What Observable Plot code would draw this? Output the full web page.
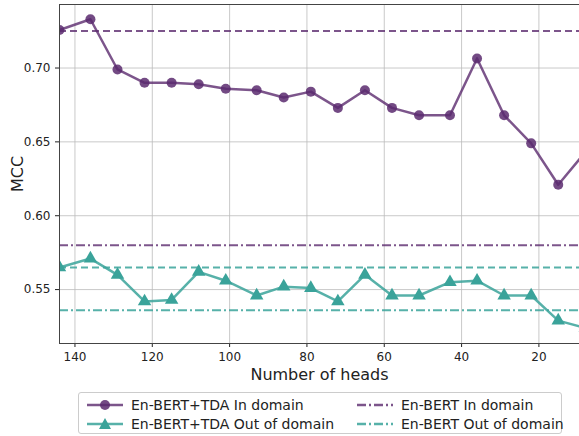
<!DOCTYPE html>
<div id="plot"></div>
<div id="legend">
  <div class="item"><svg width="36" height="14"><line x1="0" y1="7" x2="36" y2="7" stroke="#5b2a6e" stroke-opacity="0.8" stroke-width="2.5"/><circle cx="18" cy="7" r="5" fill="#5b2a6e" fill-opacity="0.85"/></svg>En-BERT+TDA In domain</div>
  <div class="item"><svg width="36" height="14"><line x1="0" y1="7" x2="36" y2="7" stroke="#5b2a6e" stroke-opacity="0.8" stroke-width="2.5" stroke-dasharray="9 3 2 3"/></svg>En-BERT In domain</div>
  <div class="item"><svg width="36" height="14"><line x1="0" y1="7" x2="36" y2="7" stroke="#3aa39a" stroke-opacity="0.85" stroke-width="2.5"/><path d="M18,1 L24,12 L12,12 Z" fill="#3aa39a"/></svg>En-BERT+TDA Out of domain</div>
  <div class="item"><svg width="36" height="14"><line x1="0" y1="7" x2="36" y2="7" stroke="#3aa39a" stroke-opacity="0.85" stroke-width="2.5" stroke-dasharray="9 3 2 3"/></svg>En-BERT Out of domain</div>
</div>
<script src="https://cdn.jsdelivr.net/npm/d3@7"></script>
<script src="https://cdn.jsdelivr.net/npm/@observablehq/plot@0.6"></script>
<script>
const heads = [144, 136, 129, 122, 115, 108, 101, 93, 86, 79, 72, 65, 58, 51, 43, 36, 29, 22, 15, 8];
const tdaIn = [0.7257, 0.733, 0.699, 0.690, 0.690, 0.689, 0.686, 0.685, 0.680, 0.684, 0.673, 0.685, 0.673, 0.668, 0.668, 0.7065, 0.668, 0.649, 0.621, 0.643];
const tdaOut = [0.565, 0.571, 0.560, 0.542, 0.543, 0.562, 0.556, 0.546, 0.552, 0.551, 0.542, 0.560, 0.546, 0.546, 0.555, 0.556, 0.546, 0.546, 0.529, 0.524];
const baseIn = [0.725, 0.580];   // dashed, dash-dot
const baseOut = [0.565, 0.536];

const purple = "#5b2a6e", teal = "#3aa39a";
const inData = heads.map((h, i) => ({h, v: tdaIn[i]}));
const outData = heads.map((h, i) => ({h, v: tdaOut[i]}));

const plot = Plot.plot({
  width: 579, height: 385,
  marginLeft: 59, marginRight: 0, marginTop: 4, marginBottom: 42,
  style: {fontFamily: "DejaVu Sans", fontSize: "12px", color: "#222"},
  x: {domain: [144, 9.5], ticks: [140, 120, 100, 80, 60, 40, 20], label: "Number of heads", labelAnchor: "center", labelArrow: "none", labelOffset: 36, tickSize: 4},
  y: {domain: [0.5135, 0.743], ticks: [0.55, 0.60, 0.65, 0.70], tickFormat: d3.format(".2f"), label: "MCC", labelAnchor: "center", labelArrow: "none", labelOffset: 48, tickSize: 4},
  marks: [
    Plot.gridX([140, 120, 100, 80, 60, 40, 20], {stroke: "#bbb", strokeOpacity: 1, strokeWidth: 0.8}),
    Plot.gridY([0.55, 0.60, 0.65, 0.70], {stroke: "#bbb", strokeOpacity: 1, strokeWidth: 0.8}),
    Plot.ruleY([baseIn[0]], {stroke: purple, strokeOpacity: 0.8, strokeWidth: 2, strokeDasharray: "7 4"}),
    Plot.ruleY([baseIn[1]], {stroke: purple, strokeOpacity: 0.8, strokeWidth: 2, strokeDasharray: "9 3 2 3"}),
    Plot.ruleY([baseOut[0]], {stroke: teal, strokeOpacity: 0.85, strokeWidth: 2, strokeDasharray: "7 4"}),
    Plot.ruleY([baseOut[1]], {stroke: teal, strokeOpacity: 0.85, strokeWidth: 2, strokeDasharray: "9 3 2 3"}),
    Plot.line(inData, {x: "h", y: "v", stroke: purple, strokeOpacity: 0.8, strokeWidth: 2.5, clip: true}),
    Plot.dot(inData, {x: "h", y: "v", fill: purple, fillOpacity: 0.85, r: 5, clip: true}),
    Plot.line(outData, {x: "h", y: "v", stroke: teal, strokeOpacity: 0.85, strokeWidth: 2.5, clip: true}),
    Plot.dot(outData, {x: "h", y: "v", fill: teal, symbol: "triangle", r: 5, clip: true}),
    Plot.frame({stroke: "#444"})
  ]
});
plot.querySelectorAll("[aria-label='x-axis label'] text, [aria-label='y-axis label'] text").forEach(t => t.style.fontSize = "16px");
document.querySelector("#plot").append(plot);
</script>
<style>
html, body { margin: 0; background: white; }
#plot svg { display: block; }
#legend {
  position: absolute; left: 78px; top: 392px; width: 484px; height: 42px;
  border: 1px solid #ccc; border-radius: 3px; box-sizing: border-box;
  display: grid; grid-template-columns: 270px 210px; padding: 2px 0 0 8px;
  font-family: "DejaVu Sans"; font-size: 14px; color: #222;
}
.item { display: flex; align-items: center; gap: 8px; height: 19px; }
</style>
